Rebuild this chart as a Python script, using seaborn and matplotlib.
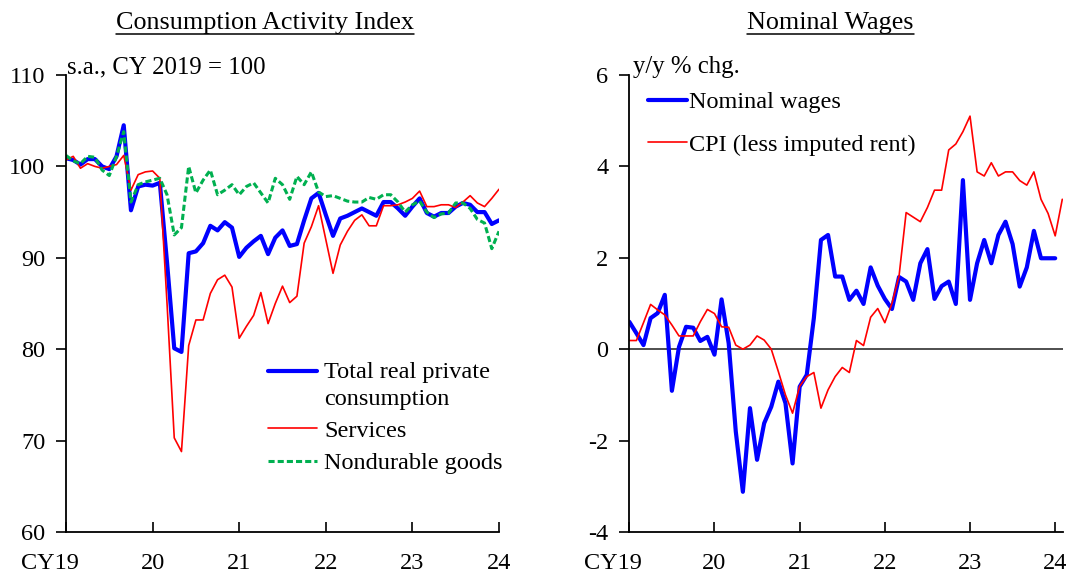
import numpy as np
import pandas as pd
import matplotlib
matplotlib.use("Agg")
import matplotlib.pyplot as plt
import seaborn as sns
from matplotlib.lines import Line2D
from matplotlib.transforms import ScaledTranslation

sns.set_theme(style="white")
plt.rcParams['font.family'] = ['Liberation Serif', 'DejaVu Serif']
plt.rcParams['axes.unicode_minus'] = False

# ---------------- data ----------------
# Left panel: monthly, Jan 2019 (0) .. Jan 2024 (60)
total_consumption = [100.9, 100.7, 100.2, 100.8, 100.8, 100.0, 99.7, 101.1, 104.5, 95.2,
                     97.8, 98.0, 97.9, 98.2, 89.5, 80.1, 79.7, 90.5, 90.7, 91.6,
                     93.5, 93.0, 93.9, 93.3, 90.1, 91.1, 91.8, 92.4, 90.4, 92.2,
                     93.0, 91.3, 91.5, 94.1, 96.5, 97.1, 94.7, 92.4, 94.3, 94.6,
                     95.0, 95.4, 95.0, 94.6, 96.1, 96.1, 95.4, 94.6, 95.6, 96.5,
                     94.9, 94.5, 94.9, 94.9, 95.6, 96.0, 95.8, 95.0, 95.0, 93.7,
                     94.1]
services = [100.7, 101.1, 99.8, 100.3, 100.0, 99.8, 100.0, 100.2, 101.2, 97.4,
            99.1, 99.4, 99.5, 98.7, 85.0, 70.3, 68.8, 80.4, 83.2, 83.2,
            86.1, 87.6, 88.1, 86.8, 81.2, 82.5, 83.7, 86.2, 82.8, 85.0,
            86.9, 85.1, 85.8, 91.6, 93.4, 95.7, 92.0, 88.3, 91.4, 92.9,
            94.1, 94.7, 93.5, 93.5, 95.7, 95.7, 95.8, 96.1, 96.5, 97.3,
            95.6, 95.6, 95.8, 95.8, 95.5, 96.1, 96.8, 96.0, 95.6, 96.5,
            97.5]
nondurable = [101.2, 100.6, 100.3, 101.1, 101.0, 99.6, 99.0, 101.1, 103.8, 96.1,
              98.0, 98.3, 98.5, 98.7, 96.9, 92.5, 93.3, 100.0, 97.1, 98.5,
              99.6, 96.9, 97.4, 98.0, 96.9, 97.8, 98.2, 97.1, 96.0, 98.7,
              98.0, 96.4, 98.9, 98.0, 99.4, 97.2, 96.7, 96.8, 96.5, 96.2,
              96.1, 96.1, 96.6, 96.4, 96.9, 96.9, 96.1, 95.0, 95.8, 96.2,
              95.0, 94.4, 94.8, 94.9, 96.0, 96.0, 95.4, 94.2, 93.8, 91.0,
              92.9]

# Right panel: monthly, Jan 2019 (0) .. Jan 2024 (60) / Feb 2024 (61)
nominal_wages = [0.60, 0.35, 0.09, 0.68, 0.79, 1.19, -0.91, 0.05, 0.49, 0.47,
                 0.18, 0.27, -0.12, 1.09, 0.13, -1.80, -3.12, -1.29, -2.42, -1.62,
                 -1.26, -0.71, -1.18, -2.50, -0.82, -0.56, 0.68, 2.39, 2.50, 1.59,
                 1.59, 1.08, 1.28, 0.99, 1.79, 1.39, 1.10, 0.88, 1.58, 1.48,
                 1.08, 1.88, 2.19, 1.10, 1.38, 1.48, 0.99, 3.70, 1.08, 1.88,
                 2.39, 1.88, 2.50, 2.79, 2.30, 1.37, 1.79, 2.59, 1.99, 1.99,
                 1.99]
cpi_less_rent = [0.19, 0.19, 0.58, 0.98, 0.86, 0.75, 0.53, 0.29, 0.29, 0.29,
                 0.60, 0.87, 0.78, 0.49, 0.48, 0.09, 0.00, 0.09, 0.29, 0.20,
                 0.00, -0.49, -1.00, -1.40, -0.81, -0.60, -0.51, -1.29, -0.89, -0.60,
                 -0.40, -0.51, 0.19, 0.08, 0.70, 0.89, 0.58, 1.00, 1.60, 2.99,
                 2.89, 2.79, 3.10, 3.48, 3.48, 4.36, 4.49, 4.76, 5.10, 3.88,
                 3.79, 4.08, 3.79, 3.88, 3.88, 3.69, 3.59, 3.88, 3.28, 2.97,
                 2.48, 3.28]

tick_pos = [0, 12, 24, 36, 48, 60]
tick_labels = ["CY19", "20", "21", "22", "23", "24"]
left_yticks = [60, 70, 80, 90, 100, 110]
right_yticks = [-4, -2, 0, 2, 4, 6]

left_title = "Consumption Activity Index"
right_title = "Nominal Wages"
left_unit = "s.a., CY 2019 = 100"
right_unit = "y/y % chg."

left_df = pd.DataFrame({
    "month": np.arange(len(total_consumption)),
    "total": total_consumption,
    "services": services,
    "nondurable": nondurable,
})
wage_df = pd.DataFrame({"month": np.arange(len(nominal_wages)), "wages": nominal_wages})
cpi_df = pd.DataFrame({"month": np.arange(len(cpi_less_rent)), "cpi": cpi_less_rent})

# ---------------- figure ----------------
W, H = 1073, 574
fig = plt.figure(figsize=(W / 100, H / 100), dpi=100)
fig.patch.set_facecolor("white")

ax1 = fig.add_axes([66 / W, 42 / H, 433 / W, 457 / H])
ax2 = fig.add_axes([629.3 / W, 42 / H, 433.7 / W, 457 / H])

FS = 17.5
BLUE = "#0000FF"
RED = "#FF0000"
GREEN = "#00B050"

# left panel
sns.lineplot(data=left_df, x="month", y="total", ax=ax1, color=BLUE, lw=3.0,
             label="Total real private\nconsumption")
sns.lineplot(data=left_df, x="month", y="services", ax=ax1, color=RED, lw=1.2,
             label="Services")
sns.lineplot(data=left_df, x="month", y="nondurable", ax=ax1, color=GREEN, lw=2.2,
             label="Nondurable goods")
ax1.lines[2].set_dashes((2.0, 1.0))

# right panel
ax2.axhline(0, color="#404040", lw=1.3, zorder=1)
sns.lineplot(data=wage_df, x="month", y="wages", ax=ax2, color=BLUE, lw=3.0,
             label="Nominal wages")
sns.lineplot(data=cpi_df, x="month", y="cpi", ax=ax2, color=RED, lw=1.2,
             label="CPI (less imputed rent)")

ax1.set_xlim(0, 60)
ax1.set_ylim(60, 110)
ax1.set_yticks(left_yticks)
ax2.set_xlim(0, 61.1)
ax2.set_ylim(-4, 6)
ax2.set_yticks(right_yticks)

for ax in (ax1, ax2):
    ax.set_xlabel("")
    ax.set_ylabel("")
    ax.set_facecolor("white")
    ax.grid(False)
    for s in ("top", "right"):
        ax.spines[s].set_visible(False)
    for s in ("left", "bottom"):
        ax.spines[s].set_color("black")
        ax.spines[s].set_linewidth(1.3)
    ax.set_xticks(tick_pos)
    ax.set_xticklabels(tick_labels)
    ax.tick_params(axis="x", direction="in", length=7, width=1.2, color="black",
                   labelsize=FS, pad=15, bottom=True)
    ax.tick_params(axis="y", direction="out", length=7, width=1.2, color="black",
                   labelsize=FS, pad=8, left=True)
    for lbl in ax.get_xticklabels() + ax.get_yticklabels():
        lbl.set_color("black")
    t0 = ax.xaxis.get_major_ticks()[0].label1
    t0.set_horizontalalignment("right")
    t0.set_transform(t0.get_transform() + ScaledTranslation(0.13, 0, fig.dpi_scale_trans))

# legends
leg1 = ax1.legend(loc="upper left", bbox_to_anchor=((268 - 66) / 433, (532 - 362) / 457),
                  frameon=False, fontsize=FS, handlelength=2.0, handletextpad=0.3,
                  borderpad=0, borderaxespad=0, labelspacing=0.42)
leg2 = ax2.legend(loc="upper left", bbox_to_anchor=((648 - 629.3) / 433.7, (532 - 91) / 457),
                  frameon=False, fontsize=FS, handlelength=1.6, handletextpad=0.1,
                  borderpad=0, borderaxespad=0, labelspacing=0.85)
for leg in (leg1, leg2):
    for t in leg.get_texts():
        t.set_color("black")
leg1.get_texts()[0].set_linespacing(1.35)
h0 = leg1.legend_handles[0]
yd = h0.get_ydata()
h0.set_ydata([y + 10.5 for y in yd])

# unit labels
fig.text(67 / W, 1 - 67 / H, left_unit, fontsize=FS + 0.3, ha="left", va="center", color="black")
fig.text(633 / W, 1 - 67 / H, right_unit, fontsize=FS + 0.3, ha="left", va="center", color="black")

# titles with underline
titles = [fig.text(264.5 / W, 1 - 23.5 / H, left_title, fontsize=FS + 1.3, ha="center", va="center", color="black"),
          fig.text(830.5 / W, 1 - 23.5 / H, right_title, fontsize=FS + 1.3, ha="center", va="center", color="black")]
fig.canvas.draw()
r = fig.canvas.get_renderer()
for t in titles:
    bb = t.get_window_extent(renderer=r)
    yline = bb.y0 + 1
    fig.add_artist(Line2D([bb.x0 / W, bb.x1 / W], [yline / H, yline / H],
                          transform=fig.transFigure, color="black", lw=1.1))

fig.savefig("out.png", dpi=100, facecolor="white")
